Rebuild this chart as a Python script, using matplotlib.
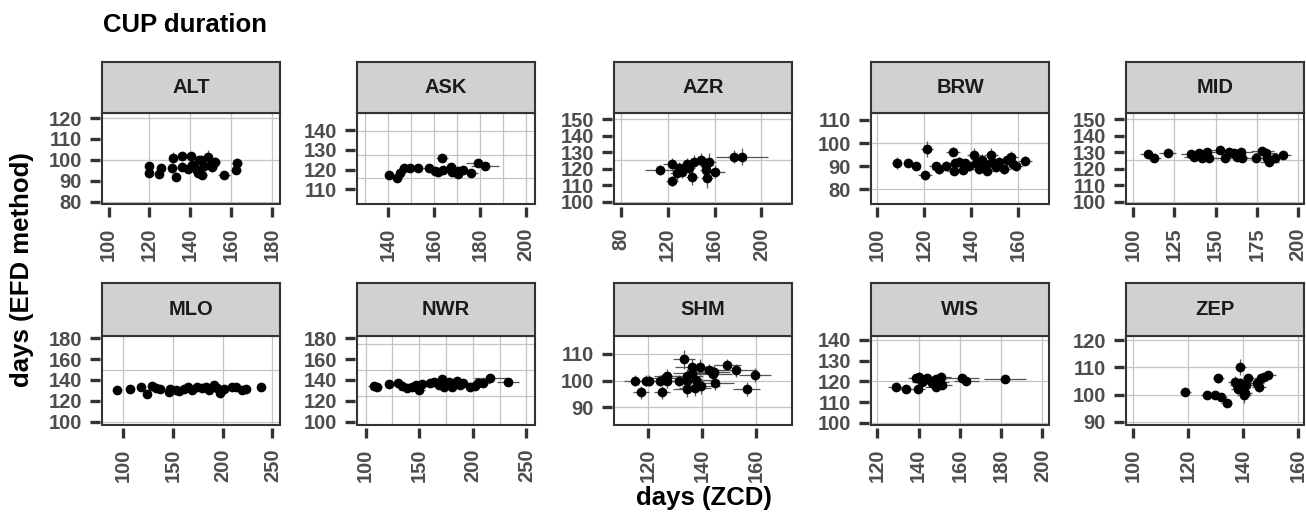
import matplotlib
matplotlib.use('Agg')
import matplotlib.pyplot as plt
from matplotlib.patches import Rectangle

plt.rcParams['font.family'] = ['Liberation Sans', 'DejaVu Sans']
plt.rcParams['font.weight'] = 'bold'

# ---------------- data ----------------
stations = ['ALT', 'ASK', 'AZR', 'BRW', 'MID', 'MLO', 'NWR', 'SHM', 'WIS', 'ZEP']

ALT_x = [119.9, 119.9, 125.9, 124.8, 131.8, 131.3, 132.9, 135.8, 135.8, 140.3, 141.1, 138.7, 142.8,
         144.0, 146.0, 145.2, 146.8, 148.9, 150.0, 152.2, 150.9, 156.6, 163.1, 162.3, 144.4]
ALT_y = [97.1, 94.0, 96.0, 93.2, 101.1, 96.0, 92.1, 101.9, 96.8, 101.9, 97.6, 95.7, 95.6,
         94.0, 92.9, 100.0, 97.1, 101.6, 97.6, 99.2, 96.5, 92.9, 98.4, 95.2, 100.0]
ALT_xe = [1.5, 1.5, 2, 2, 2, 2, 1.5, 2, 2, 2, 2, 2, 2, 2, 2, 2.5, 2, 2, 2, 2.5, 2, 3, 2.5, 2.5, 2]
ALT_ye = [1.5, 1.5, 1.5, 1.5, 2.5, 2, 2, 2, 2, 2, 2, 2, 2, 2, 2, 2, 2, 3, 2, 2, 2, 1.5, 2.5, 2, 2]

ASK_x = [140.6, 143.9, 145.4, 146.8, 149.7, 153.0, 157.6, 160.2, 161.9, 163.4, 164.0, 167.4, 168.0,
         170.6, 170.6, 172.7, 175.9, 178.9, 182.1]
ASK_y = [117.2, 115.6, 118.1, 120.6, 120.6, 120.6, 120.6, 119.4, 118.9, 125.7, 119.8, 121.5, 119.0,
         119.4, 118.0, 119.8, 118.5, 123.1, 121.8]
ASK_xe = [2, 2, 2, 2, 2, 2, 2.5, 2.5, 2.5, 2.5, 2.5, 3, 3, 3, 3, 3, 3, 5, 6]
ASK_ye = [1.5, 1.5, 1.5, 1.5, 1.5, 1.5, 1.5, 1.5, 1.5, 2, 1.5, 1.5, 1.5, 2, 1.5, 1.5, 1.5, 1.5, 1.5]

AZR_x = [113.4, 123.7, 123.7, 127.6, 130.0, 132.2, 136.2, 138.5, 140.8, 142.8, 148.5, 152.8, 152.8,
         153.7, 155.6, 160.5, 176.4, 183.3]
AZR_y = [119.2, 122.7, 112.6, 117.2, 120.3, 118.2, 122.7, 120.3, 115.2, 124.3, 125.3, 122.3, 119.3,
         114.2, 124.3, 118.2, 127.3, 127.3]
AZR_xe = [13, 8, 5, 6, 5, 5, 6, 5, 5, 6, 6, 6, 5, 5, 6, 8, 6, 22]
AZR_ye = [3, 4, 3, 4, 4, 4, 4, 5, 5, 4, 4, 4, 5, 6, 5, 4, 4, 5]

BRW_x = [108.3, 113.2, 116.4, 121.3, 120.2, 125.2, 126.3, 129.2, 132.3, 133.1, 132.7, 134.8, 136.5,
         137.4, 139.1, 141.2, 142.0, 143.4, 144.8, 146.2, 146.9, 148.4, 149.0, 150.5, 151.9, 154.0,
         155.4, 156.9, 157.9, 159.0, 163.0]
BRW_y = [91.3, 91.3, 90.2, 97.3, 86.0, 89.9, 88.7, 90.2, 96.3, 91.3, 88.1, 92.0, 88.4,
         91.3, 89.9, 94.8, 91.3, 88.7, 92.7, 90.5, 88.1, 94.8, 92.0, 89.5, 92.0, 88.7,
         92.7, 94.1, 91.0, 89.9, 92.4]
BRW_xe = [2, 2, 2, 2.5, 3, 3, 3, 3, 3, 3, 3, 3, 3, 3, 3, 3, 3, 3, 3, 3, 3, 3, 3, 3, 3, 3,
          3, 3, 3, 3, 3]
BRW_ye = [2.5, 1.5, 1.5, 3.5, 2, 2, 2, 2, 2, 2, 2, 2, 2, 2, 2, 3, 2, 2, 2.5, 2, 2, 3, 2, 2, 2, 2,
          2.5, 2.5, 2, 2, 2]

MID_x = [109.1, 112.8, 120.9, 135.1, 137.1, 140.0, 141.6, 144.6, 146.0, 152.8, 155.8, 157.8, 160.9,
         162.9, 165.5, 165.9, 174.4, 178.1, 180.2, 181.2, 182.6, 186.2, 190.7]
MID_y = [128.8, 126.3, 129.4, 129.0, 127.3, 129.4, 126.3, 130.3, 126.3, 131.4, 126.3, 130.3, 129.4,
         127.3, 130.3, 126.3, 126.3, 130.9, 129.4, 126.3, 124.3, 126.7, 128.3]
MID_xe = [5, 4, 5, 6, 6, 5, 6, 6, 6, 7, 6, 7, 6, 6, 7, 6, 6, 7, 7, 6, 6, 6, 5]
MID_ye = [1.5, 1.5, 1.5, 1.5, 1.5, 1.5, 1.5, 1.5, 1.5, 1.5, 1.5, 1.5, 1.5, 1.5, 1.5, 1.5, 1.5, 1.5,
          1.5, 1.5, 1.5, 1.5, 1.5]

MLO_x = [93.4, 106.7, 117.5, 123.6, 129.2, 132.6, 137.0, 146.0, 146.7, 152.8, 156.2, 161.1, 165.5,
         169.5, 174.5, 179.5, 182.9, 186.2, 191.3, 194.6, 197.3, 201.3, 209.8, 213.1, 219.8, 223.2, 238.3]
MLO_y = [130.4, 131.4, 133.0, 126.6, 134.6, 132.1, 131.0, 128.8, 131.0, 130.4, 129.4, 131.4, 133.0,
         130.4, 133.0, 132.0, 133.6, 130.4, 135.2, 132.0, 127.2, 131.0, 133.6, 133.0, 130.4, 131.4, 133.0]
MLO_xe = [2, 2, 2, 2, 3, 3, 3, 3, 3, 3, 3, 3, 3, 3, 3, 3, 3, 3, 3, 3, 3, 3, 3, 3, 4, 3, 3]
MLO_ye = [1.5] * 27

NWR_x = [107.7, 110.2, 121.6, 130.0, 134.0, 138.6, 143.3, 147.3, 149.5, 152.6, 160.3, 163.4, 168.0,
         171.1, 172.7, 177.3, 180.4, 185.0, 188.1, 191.2, 197.4, 202.0, 205.1, 209.7, 215.9, 232.9]
NWR_y = [134.3, 133.7, 136.2, 136.8, 134.3, 132.0, 133.7, 135.2, 130.4, 136.2, 136.8, 138.4, 135.2,
         140.6, 133.7, 138.4, 133.7, 139.4, 135.2, 136.8, 133.0, 134.3, 137.5, 136.8, 141.6, 138.4]
NWR_xe = [6, 5, 4, 4, 5, 5, 5, 5, 6, 5, 5, 5, 6, 6, 6, 6, 6, 6, 6, 6, 6, 7, 8, 6, 15, 10]
NWR_ye = [2] * 26

SHM_x = [115.1, 117.2, 119.3, 120.3, 124.2, 125.2, 126.2, 127.1, 127.1, 131.4, 133.2, 134.2, 134.4,
         134.2, 136.0, 136.2, 137.5, 137.2, 139.2, 139.6, 142.5, 144.0, 144.6, 144.2, 149.3, 152.4,
         156.5, 159.6]
SHM_y = [100.0, 95.6, 100.0, 100.0, 100.0, 95.6, 100.9, 101.7, 99.9, 100.0, 108.0, 101.7, 99.9,
         96.9, 105.2, 103.0, 100.2, 97.1, 105.2, 98.0, 103.9, 102.5, 99.0, 103.3, 106.0, 103.9,
         96.9, 102.1]
SHM_xe = [4, 3, 4, 3, 4, 3, 5, 5, 5, 4, 4, 6, 6, 5, 6, 7, 6, 6, 5, 7, 6, 7, 7, 6, 5, 8, 5, 6]
SHM_ye = [2, 2.5, 2, 2, 2, 2.5, 2.5, 2.5, 2.5, 2, 3.5, 2.5, 3, 3, 3, 3, 3, 3, 3, 3, 2.5, 2.5,
          2.5, 2.5, 2, 2.5, 2.5, 2.5]

WIS_x = [129.2, 134.1, 139.9, 138.9, 140.2, 141.8, 144.2, 146.3, 148.3, 148.3, 149.9, 150.7, 151.2,
         142.5, 147.0, 161.2, 163.2, 181.9]
WIS_y = [117.1, 116.3, 116.3, 121.5, 122.3, 119.8, 121.5, 119.0, 121.0, 117.4, 119.8, 122.0, 118.2,
         120.5, 120.0, 121.5, 120.2, 121.2]
WIS_xe = [4, 3, 3, 4, 4, 5, 5, 5, 5, 5, 5, 5, 5, 5, 5, 8, 6, 10]
WIS_ye = [2, 2, 2, 2, 2, 2, 2, 2, 2, 2, 2, 2.5, 2, 2, 2, 2, 2, 2]

ZEP_x = [118.9, 126.8, 129.8, 131.0, 132.0, 134.1, 137.1, 137.7, 138.1, 139.0, 139.0, 139.8, 140.2,
         140.8, 141.8, 141.0, 145.0, 145.8, 146.6, 147.5, 149.0]
ZEP_y = [100.9, 99.8, 99.8, 105.9, 99.0, 97.0, 104.7, 103.5, 102.2, 110.0, 104.1, 103.1, 99.8,
         100.4, 105.9, 103.5, 104.1, 102.9, 105.9, 106.3, 107.2]
ZEP_xe = [2, 2, 2, 2, 2, 2, 2.5, 2.5, 2.5, 2, 2.5, 2.5, 2.5, 2.5, 2, 2.5, 2.5, 2.5, 2.5, 2.5, 3]
ZEP_ye = [1.5, 1.5, 1.5, 1.5, 1.5, 1.5, 2, 2, 2, 3, 2, 2, 3, 2, 1.5, 2, 2, 2, 1.5, 1.5, 1.5]

series = {
    'ALT': (ALT_x, ALT_y, ALT_xe, ALT_ye), 'ASK': (ASK_x, ASK_y, ASK_xe, ASK_ye),
    'AZR': (AZR_x, AZR_y, AZR_xe, AZR_ye), 'BRW': (BRW_x, BRW_y, BRW_xe, BRW_ye),
    'MID': (MID_x, MID_y, MID_xe, MID_ye), 'MLO': (MLO_x, MLO_y, MLO_xe, MLO_ye),
    'NWR': (NWR_x, NWR_y, NWR_xe, NWR_ye), 'SHM': (SHM_x, SHM_y, SHM_xe, SHM_ye),
    'WIS': (WIS_x, WIS_y, WIS_xe, WIS_ye), 'ZEP': (ZEP_x, ZEP_y, ZEP_xe, ZEP_ye),
}

# tick labels per panel
xticks = {
    'ALT': [100, 120, 140, 160, 180], 'ASK': [140, 160, 180, 200], 'AZR': [80, 120, 160, 200],
    'BRW': [100, 120, 140, 160], 'MID': [100, 125, 150, 175, 200], 'MLO': [100, 150, 200, 250],
    'NWR': [100, 150, 200, 250], 'SHM': [120, 140, 160], 'WIS': [120, 140, 160, 180, 200],
    'ZEP': [100, 120, 140, 160],
}
yticks = {
    'ALT': [80, 90, 100, 110, 120], 'ASK': [110, 120, 130, 140], 'AZR': [100, 110, 120, 130, 140, 150],
    'BRW': [80, 90, 100, 110], 'MID': [100, 110, 120, 130, 140, 150], 'MLO': [100, 120, 140, 160, 180],
    'NWR': [100, 120, 140, 160, 180], 'SHM': [90, 100, 110], 'WIS': [100, 110, 120, 130, 140],
    'ZEP': [90, 100, 110, 120],
}

# ---------------- layout / style ----------------
xlims = {
    'ALT': (96.8, 184.0), 'ASK': (126.5, 203.9), 'AZR': (74.3, 226.0), 'BRW': (97.3, 173.2),
    'MID': (95.7, 203.5), 'MLO': (78.5, 257.8), 'NWR': (91.9, 258.0), 'SHM': (107.3, 173.2),
    'WIS': (116.9, 203.2), 'ZEP': (97.4, 162.1),
}
ylims = {
    'ALT': (79.0, 122.4), 'ASK': (102.6, 148.6), 'AZR': (98.6, 153.8), 'BRW': (73.6, 113.0),
    'MID': (98.6, 153.8), 'MLO': (96.8, 182.2), 'NWR': (96.8, 182.2), 'SHM': (83.4, 116.7),
    'WIS': (98.9, 141.9), 'ZEP': (88.8, 121.5),
}
xgrid = {
    'ALT': [120, 140, 160, 180], 'ASK': [130, 140, 150, 160, 170, 180, 190, 200],
    'AZR': [80, 120, 160, 200], 'BRW': [100, 120, 140, 160], 'MID': [100, 125, 150, 175, 200],
    'MLO': [100, 150, 200, 250], 'NWR': [100, 125, 150, 175, 200, 225, 250],
    'SHM': [120, 140, 160], 'WIS': [120, 140, 160, 180, 200], 'ZEP': [100, 120, 140, 160],
}
ygrid = {
    'ALT': [80, 100, 120], 'ASK': [115.5, 127.5, 139.5], 'AZR': [100, 125, 150], 'BRW': [80, 100],
    'MID': [100, 125, 150], 'MLO': [100, 150], 'NWR': [125, 150, 175], 'SHM': [90, 100, 110],
    'WIS': [100, 120, 140], 'ZEP': [90, 100, 110, 120],
}

W, H = 1306, 515
fig = plt.figure(figsize=(W / 100, H / 100), dpi=100)


def px_axes(l, t, w, h):
    return fig.add_axes([l / W, 1 - (t + h) / H, w / W, h / H])


col_left = [102, 357, 614, 871, 1126]
pw = 178
rows = [(62, 113, 204), (283, 336, 425)]
DARK = '#333333'

for i, st in enumerate(stations):
    r, c = divmod(i, 5)
    s_top, s_bot, p_bot = rows[r]
    left = col_left[c]
    ax = px_axes(left, s_bot, pw, p_bot - s_bot)
    ax.set_xlim(*xlims[st])
    ax.set_ylim(*ylims[st])
    for g in xgrid[st]:
        ax.axvline(g, color='#C4C4C4', lw=0.9, zorder=0)
    for g in ygrid[st]:
        ax.axhline(g, color='#C4C4C4', lw=0.9, zorder=0)
    x, y, xe, ye = series[st]
    ax.errorbar(x, y, xerr=xe, yerr=ye, fmt='o', color='black', ms=7, mew=0,
                ecolor='#555555', elinewidth=0.9, capsize=0, zorder=3)
    for sp in ax.spines.values():
        sp.set_visible(False)
    ax.spines['left'].set_position(('outward', 1.5))
    ax.spines['bottom'].set_position(('outward', 2))
    ax.add_patch(Rectangle((0, 0), 1, 1, transform=ax.transAxes, fill=False,
                           ec=DARK, lw=1.5, clip_on=False, zorder=6))
    ax.set_xticks(xticks[st])
    ax.set_yticks(yticks[st])
    ax.tick_params(axis='both', direction='out', length=7, width=2.4, color=DARK,
                   labelsize=14.5, labelcolor='#4D4D4D')
    ax.tick_params(axis='x', labelrotation=90, pad=8)
    ax.tick_params(axis='y', pad=6)
    # strip
    sax = px_axes(left, s_top, pw, s_bot - s_top)
    sax.set_facecolor('#D1D1D1')
    sax.set_xticks([])
    sax.set_yticks([])
    for sp in sax.spines.values():
        sp.set_color(DARK)
        sp.set_linewidth(1.5)
    sax.text(0.5, 0.5, st, ha='center', va='center', fontsize=14.5, color='#1A1A1A',
             transform=sax.transAxes)

fig.text(103 / W, 1 - 25 / H, 'CUP duration', ha='left', va='center', fontsize=18.5, color='black')
fig.text(22 / W, 1 - 270 / H, 'days (EFD method)', ha='center', va='center', rotation=90,
         fontsize=18.5, color='black')
fig.text(704 / W, 1 - 498 / H, 'days (ZCD)', ha='center', va='center', fontsize=18.5, color='black')

fig.savefig('out.png', dpi=100)
